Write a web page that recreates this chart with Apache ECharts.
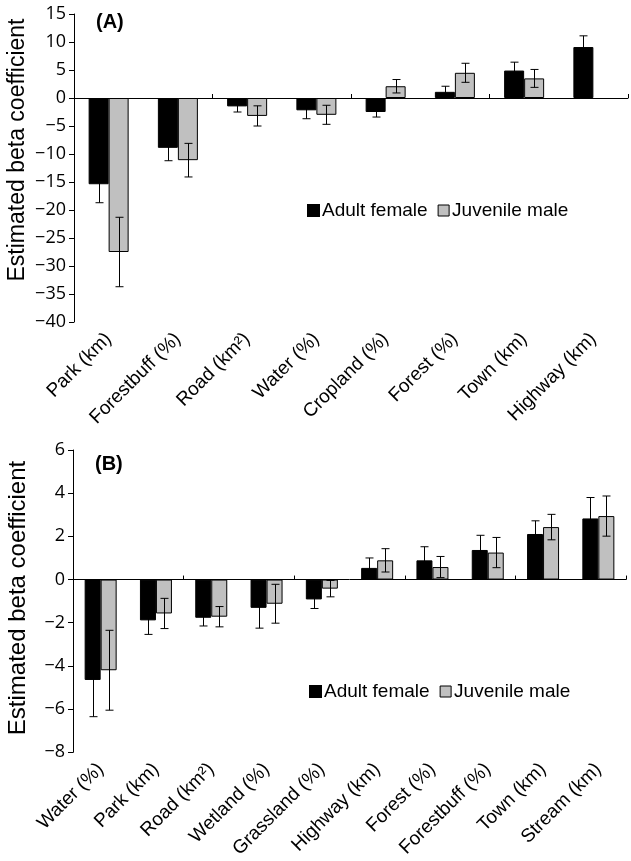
<!DOCTYPE html>
<html>
<head>
<meta charset="utf-8">
<script src="https://cdn.jsdelivr.net/npm/echarts@6/dist/echarts.min.js"></script>
<style>html,body{margin:0;padding:0;background:#fff}#c{width:631px;height:861px}</style>
</head>
<body>
<div id="c"></div>
<script>
// ---- Data ----
const catsA = ['Park (km)', 'Forestbuff (%)', 'Road (km²)', 'Water (%)', 'Cropland (%)', 'Forest (%)', 'Town (km)', 'Highway (km)'];
const adultA = [-15.4, -8.9, -1.5, -2.2, -2.5, 1.1, 4.9, 9.1];
const adultSeA = [3.3, 2.3, 1.0, 1.5, 0.9, 1.0, 1.5, 2.0];
const juvA = [-27.5, -11.1, -3.2, -3.0, 2.1, 4.5, 3.5, null];
const juvSeA = [6.2, 3.0, 1.8, 1.7, 1.2, 1.7, 1.6, null];

const catsB = ['Water (%)', 'Park (km)', 'Road (km²)', 'Wetland (%)', 'Grassland (%)', 'Highway (km)', 'Forest (%)', 'Forestbuff (%)', 'Town (km)', 'Stream (km)'];
const adultB = [-4.65, -1.89, -1.77, -1.31, -0.92, 0.54, 0.89, 1.37, 2.11, 2.83];
const adultSeB = [1.7, 0.65, 0.38, 0.94, 0.42, 0.46, 0.63, 0.68, 0.61, 0.97];
const juvB = [-4.2, -1.57, -1.72, -1.12, -0.42, 0.89, 0.58, 1.25, 2.43, 2.94];
const juvSeB = [1.85, 0.7, 0.47, 0.9, 0.38, 0.54, 0.49, 0.7, 0.59, 0.93];

const yTicksA = {min: -40, max: 15, interval: 5};
const yTicksB = {min: -8, max: 6, interval: 2};

// ---- Styles ----
const BLACK = '#000000';
const GRAY = '#c0c0c0';
const fontSans = '"Liberation Sans", Arial, sans-serif';
const fontTick = '"Open Sans", "Liberation Sans", sans-serif';

function errData(vals, ses) {
  return vals.map((v, i) => (v == null || ses[i] == null) ? [i, null, null] : [i, v, ses[i]]);
}

function errSeries(name, vals, ses, xIdx, yIdx, offset) {
  return {
    type: 'custom', name: name + ' err', xAxisIndex: xIdx, yAxisIndex: yIdx, z: 10,
    data: errData(vals, ses),
    encode: {x: 0, y: 1},
    silent: true,
    renderItem: function (params, api) {
      const v = api.value(1), se = api.value(2);
      if (v == null || isNaN(v) || se == null || isNaN(se)) return null;
      const ci = api.value(0);
      const top = api.coord([ci, v + se]);
      const bot = api.coord([ci, v - se]);
      const x = Math.round(top[0] + offset) + 0.5;
      const cap = 4;
      const st = {stroke: BLACK, lineWidth: 1};
      return {
        type: 'group',
        children: [
          {type: 'line', shape: {x1: x, y1: top[1], x2: x, y2: bot[1]}, style: st},
          {type: 'line', shape: {x1: x - cap, y1: top[1], x2: x + cap, y2: top[1]}, style: st},
          {type: 'line', shape: {x1: x - cap, y1: bot[1], x2: x + cap, y2: bot[1]}, style: st}
        ]
      };
    }
  };
}

const minusFmt = v => String(v).replace('-', '\u2212');

function yAxis(gridIndex, t) {
  return {
    type: 'value', gridIndex: gridIndex, min: t.min, max: t.max, interval: t.interval,
    axisLine: {show: true, onZero: false, lineStyle: {color: BLACK, width: 1}},
    axisTick: {show: true, inside: false, length: 5, lineStyle: {color: BLACK}},
    axisLabel: {color: BLACK, fontSize: 18, fontFamily: fontTick, margin: 8, formatter: minusFmt},
    splitLine: {show: false}
  };
}

function xLabelAxis(gridIndex, cats) {
  return {
    type: 'category', gridIndex: gridIndex, data: cats, position: 'bottom',
    axisLine: {show: false, onZero: false},
    axisTick: {show: false},
    axisLabel: {color: BLACK, fontSize: 19, fontFamily: fontSans, rotate: 45, margin: 14, interval: 0}
  };
}

function xZeroAxis(gridIndex, cats) {
  return {
    type: 'category', gridIndex: gridIndex, data: cats, position: 'top',
    axisLine: {show: true, onZero: true, lineStyle: {color: BLACK, width: 1}},
    axisTick: {show: true, inside: false, length: 4, lineStyle: {color: BLACK}},
    axisLabel: {show: false}
  };
}

const bwA = 20, bwB = 16;

const option = {
  animation: false,
  backgroundColor: '#ffffff',
  title: [
    {text: '(A)', left: 91, top: 7, textStyle: {fontFamily: fontSans, fontWeight: 'bold', fontSize: 20, color: BLACK}},
    {text: '(B)', left: 90, top: 449, textStyle: {fontFamily: fontSans, fontWeight: 'bold', fontSize: 20, color: BLACK}}
  ],
  graphic: [
    {type: 'text', x: 18, y: 150, rotation: Math.PI / 2,
     style: {text: 'Estimated beta coefficient', font: '23px ' + fontSans, fill: BLACK, align: 'center', verticalAlign: 'middle', textAlign: 'center', textVerticalAlign: 'middle'}},
    {type: 'text', x: 18, y: 598, rotation: Math.PI / 2,
     style: {text: 'Estimated beta coefficient', font: '24px ' + fontSans, fill: BLACK, align: 'center', verticalAlign: 'middle', textAlign: 'center', textVerticalAlign: 'middle'}}
  ],
  legend: [
    {left: 302, top: 196, itemWidth: 11, itemHeight: 11, itemGap: 10, icon: 'rect',
     textStyle: {fontFamily: fontSans, fontSize: 19, color: BLACK, padding: [0, 0, 0, -2]},
     data: [{name: 'Adult female', itemStyle: {color: BLACK}},
            {name: 'Juvenile male', itemStyle: {color: GRAY, borderColor: BLACK, borderWidth: 1}}]},
    {left: 304, top: 677, itemWidth: 11, itemHeight: 11, itemGap: 10, icon: 'rect',
     textStyle: {fontFamily: fontSans, fontSize: 19, color: BLACK, padding: [0, 0, 0, -2]},
     data: [{name: 'Adult female', itemStyle: {color: BLACK}},
            {name: 'Juvenile male', itemStyle: {color: GRAY, borderColor: BLACK, borderWidth: 1}}]}
  ],
  grid: [
    {left: 74, top: 14, width: 554, height: 308},
    {left: 73, top: 450, width: 553, height: 303}
  ],
  xAxis: [xLabelAxis(0, catsA), xZeroAxis(0, catsA), xLabelAxis(1, catsB), xZeroAxis(1, catsB)],
  yAxis: [yAxis(0, yTicksA), yAxis(1, yTicksB)],
  series: [
    {type: 'bar', name: 'Adult female', xAxisIndex: 0, yAxisIndex: 0, data: adultA, barWidth: bwA, barGap: '0%',
     itemStyle: {color: BLACK, borderColor: BLACK, borderWidth: 1}},
    {type: 'bar', name: 'Juvenile male', xAxisIndex: 0, yAxisIndex: 0, data: juvA, barWidth: bwA, barGap: '0%',
     itemStyle: {color: GRAY, borderColor: BLACK, borderWidth: 1}},
    errSeries('Adult female', adultA, adultSeA, 0, 0, -bwA / 2),
    errSeries('Juvenile male', juvA, juvSeA, 0, 0, bwA / 2),
    {type: 'bar', name: 'Adult female', xAxisIndex: 2, yAxisIndex: 1, data: adultB, barWidth: bwB, barGap: '0%',
     itemStyle: {color: BLACK, borderColor: BLACK, borderWidth: 1}},
    {type: 'bar', name: 'Juvenile male', xAxisIndex: 2, yAxisIndex: 1, data: juvB, barWidth: bwB, barGap: '0%',
     itemStyle: {color: GRAY, borderColor: BLACK, borderWidth: 1}},
    errSeries('Adult female', adultB, adultSeB, 2, 1, -bwB / 2),
    errSeries('Juvenile male', juvB, juvSeB, 2, 1, bwB / 2)
  ]
};

const chart = echarts.init(document.getElementById('c'), null, {renderer: 'canvas'});
chart.setOption(option);
</script>
</body>
</html>
